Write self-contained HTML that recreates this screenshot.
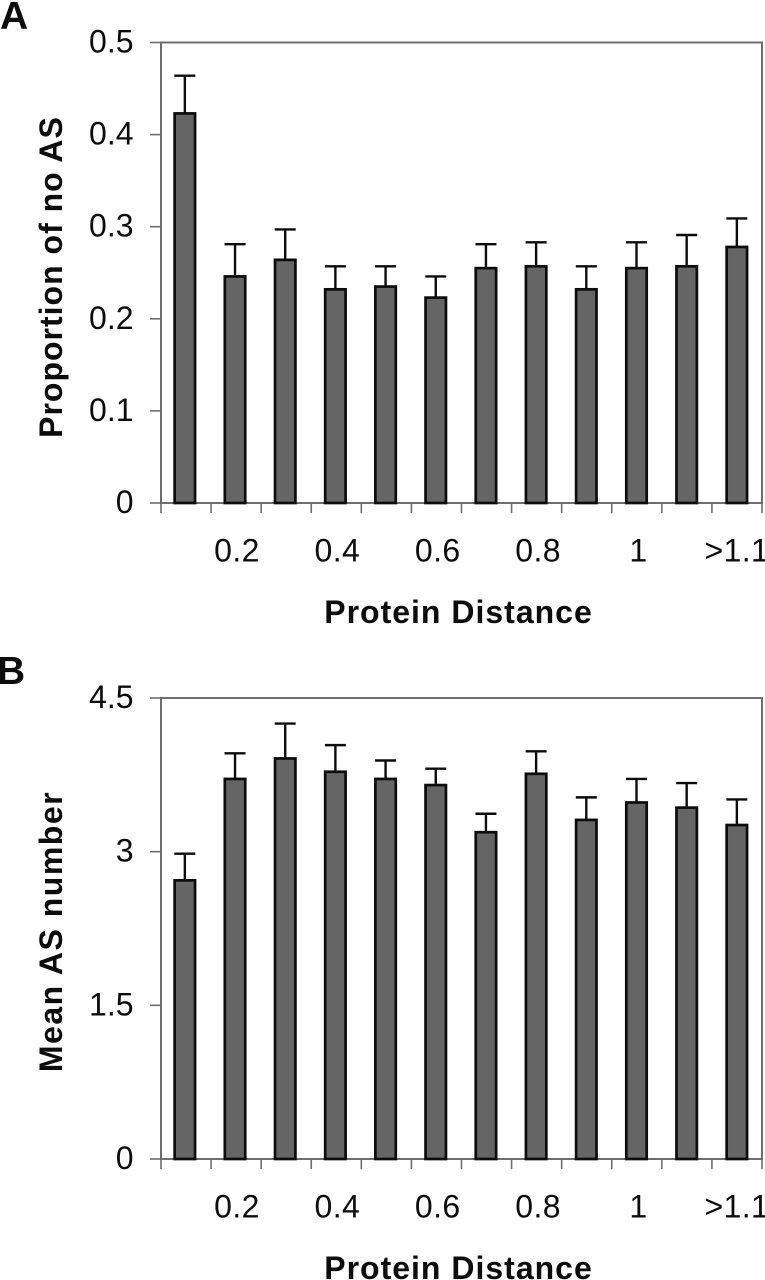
<!DOCTYPE html>
<html>
<head>
<meta charset="utf-8">
<style>
html,body{margin:0;padding:0;background:#fff;width:765px;height:1280px;overflow:hidden}
svg{display:block}
text{font-family:"Liberation Sans",sans-serif;fill:#0c0c0c}
.tick{font-size:32px;letter-spacing:.4px}
.ytick{font-size:32px}
.title{font-size:32px;font-weight:bold;letter-spacing:1px}
.title-wide{letter-spacing:1.5px}
.panel{font-size:39px;font-weight:bold}
</style>
</head>
<body>
<svg id="figure" xmlns="http://www.w3.org/2000/svg" width="765" height="1280" viewBox="0 0 765 1280">
<text class="panel" x="0" y="29">A</text>
<text class="panel" x="-3" y="684">B</text>
<text class="title" x="458.5" y="623" text-anchor="middle">Protein Distance</text>
<text class="title" x="458.5" y="1279" text-anchor="middle">Protein Distance</text>
<text class="title" transform="translate(62,277) rotate(-90)" text-anchor="middle">Proportion of no AS</text>
<text class="title title-wide" transform="translate(62,931.5) rotate(-90)" text-anchor="middle">Mean AS number</text>
</svg>
<script>
const categoryLabels = ["", "0.2", "", "0.4", "", "0.6", "", "0.8", "", "1", "", ">1.1"];
const proportionValues = [0.423, 0.246, 0.264, 0.232, 0.235, 0.223, 0.255, 0.257, 0.232, 0.255, 0.257, 0.278];
const proportionErrorTops = [0.464, 0.281, 0.297, 0.257, 0.257, 0.246, 0.281, 0.283, 0.257, 0.283, 0.291, 0.309];
const proportionTicks = [0, 0.1, 0.2, 0.3, 0.4, 0.5];
const proportionMax = 0.5;
const meanValues = [2.72, 3.71, 3.91, 3.78, 3.71, 3.65, 3.19, 3.76, 3.31, 3.48, 3.43, 3.26];
const meanErrorTops = [2.98, 3.96, 4.25, 4.04, 3.89, 3.81, 3.37, 3.98, 3.53, 3.71, 3.67, 3.51];
const meanTicks = [0, 1.5, 3, 4.5];
const meanMax = 4.5;

const svg = document.getElementById('figure');
const NS = 'http://www.w3.org/2000/svg';

function make(tag, attrs, text) {
  const el = document.createElementNS(NS, tag);
  for (const k in attrs) el.setAttribute(k, attrs[k]);
  if (text !== undefined) el.textContent = text;
  return el;
}

function drawPanel(id, top, bottom, values, errTops, ticks, maxV) {
  const left = 161, right = 762;
  const n = values.length;
  const slot = (right - left) / n;
  const xScale = i => left + slot * (i + 0.5) - 1.2 + i * 0.1;
  const yScale = v => bottom - (v / maxV) * (bottom - top);

  const g = make('g', {});
  
  
  svg.appendChild(g);

  const frame = make('rect', {x: left, y: top, width: right - left, height: bottom - top, fill: 'none', stroke: '#6e6e6e', 'stroke-width': 2});
  
  
  g.appendChild(frame);

  ticks.forEach(t => {
    const y = yScale(t);
    const tl = make('line', {x1: 150, x2: left, y1: y, y2: y, stroke: '#6e6e6e', 'stroke-width': 1.6});
    
    
    g.appendChild(tl);
    const lb = make('text', {x: 133.5, y: y + 10, 'text-anchor': 'end', class: 'ytick'}, String(t));
    
    
    g.appendChild(lb);
  });

  for (let i = 0; i <= n; i++) {
    const x = left + slot * i;
    const tk = make('line', {x1: x, x2: x, y1: bottom, y2: bottom + 10, stroke: '#6e6e6e', 'stroke-width': 1.6});
    
    
    g.appendChild(tk);
  }

  categoryLabels.forEach((c, i) => {
    if (!c) return;
    const lb = make('text', {x: xScale(i) + (c === '>1.1' ? 0 : 2), y: bottom + 58.5, 'text-anchor': 'middle', class: 'tick'}, c);
    
    
    g.appendChild(lb);
  });

  values.forEach((v, i) => {
    const cx = xScale(i);
    const stem = make('line', {x1: cx, x2: cx, y1: yScale(v), y2: yScale(errTops[i]), stroke: '#0c0c0c', 'stroke-width': 2.4});
    
    
    g.appendChild(stem);
    const cap = make('line', {x1: cx - 10.5, x2: cx + 10.5, y1: yScale(errTops[i]), y2: yScale(errTops[i]), stroke: '#0c0c0c', 'stroke-width': 2.4});
    
    
    g.appendChild(cap);
    const bar = make('rect', {x: cx - 10.2, y: yScale(v), width: 20.4, height: bottom - yScale(v), fill: '#656565', stroke: '#0c0c0c', 'stroke-width': 2.7});
    
    
    g.appendChild(bar);
  });
}

drawPanel('a', 42.5, 503, proportionValues, proportionErrorTops, proportionTicks, proportionMax);
drawPanel('b', 698, 1159, meanValues, meanErrorTops, meanTicks, meanMax);
</script>
</body>
</html>
